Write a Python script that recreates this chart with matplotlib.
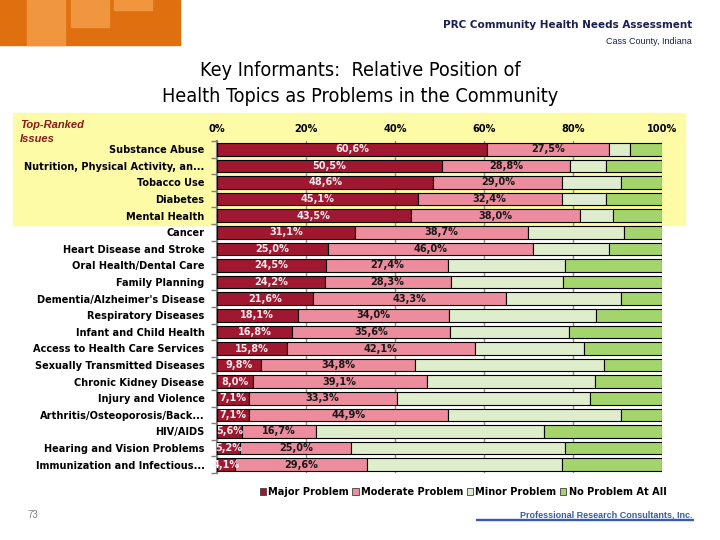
import matplotlib
matplotlib.use("Agg")
import matplotlib.pyplot as plt
from matplotlib.patches import Rectangle, Patch
from matplotlib import font_manager
import numpy as np

categories = ["Substance Abuse", "Nutrition, Physical Activity, an...", "Tobacco Use", "Diabetes",
              "Mental Health", "Cancer", "Heart Disease and Stroke", "Oral Health/Dental Care",
              "Family Planning", "Dementia/Alzheimer's Disease", "Respiratory Diseases",
              "Infant and Child Health", "Access to Health Care Services",
              "Sexually Transmitted Diseases", "Chronic Kidney Disease", "Injury and Violence",
              "Arthritis/Osteoporosis/Back...", "HIV/AIDS", "Hearing and Vision Problems",
              "Immunization and Infectious..."]
major = [60.6, 50.5, 48.6, 45.1, 43.5, 31.1, 25.0, 24.5, 24.2, 21.6, 18.1, 16.8, 15.8, 9.8, 8.0, 7.1, 7.1, 5.6, 5.2, 4.1]
moderate = [27.5, 28.8, 29.0, 32.4, 38.0, 38.7, 46.0, 27.4, 28.3, 43.3, 34.0, 35.6, 42.1, 34.8, 39.1, 33.3, 44.9, 16.7, 25.0, 29.6]
minor = [4.7, 8.1, 13.2, 9.9, 7.6, 21.7, 17.0, 26.3, 25.2, 25.9, 33.1, 26.6, 24.5, 42.3, 37.9, 43.4, 38.8, 51.2, 48.0, 43.9]
noprob = [7.2, 12.6, 9.2, 12.6, 10.9, 8.5, 12.0, 21.8, 22.3, 9.2, 14.8, 21.0, 17.6, 13.1, 15.0, 16.2, 9.2, 26.5, 21.8, 22.4]
series_names = ["Major Problem", "Moderate Problem", "Minor Problem", "No Problem At All"]
xticks = [0, 20, 40, 60, 80, 100]
xticklabels = ["0%", "20%", "40%", "60%", "80%", "100%"]

colors = ["#A0182F", "#EC8C9C", "#DEEDCB", "#A4D46C"]

# pick a narrow font if one is installed
_fonts = font_manager.fontManager.ttflist
_names = {f.name for f in _fonts}
if "Liberation Sans Narrow" in _names:
    NARROW = dict(family=["Liberation Sans Narrow", "DejaVu Sans"], stretch="normal")
    SCALE = 1.0
elif any(f.name == "DejaVu Sans" and f.stretch in ("condensed", 600, "semi-condensed") for f in _fonts):
    NARROW = dict(family=["DejaVu Sans"], stretch="condensed")
    SCALE = 0.92
else:
    NARROW = dict(family=["Liberation Sans", "DejaVu Sans"], stretch="normal")
    SCALE = 0.84
plt.rcParams["font.family"] = ["Liberation Sans", "DejaVu Sans"]

W, H = 720, 540
fig = plt.figure(figsize=(7.2, 5.4), dpi=100)
fig.patch.set_facecolor("white")

def px(x, y):
    return x / W, 1 - y / H

# logo
fig.patches.append(Rectangle(px(0, 45), 180 / W, 45 / H, transform=fig.transFigure, color="#E0700F", zorder=-6))
for (x0, x1, y1) in [(27, 65, 45), (71, 109, 27), (114, 152, 10)]:
    fig.patches.append(Rectangle(px(x0, y1), (x1 - x0) / W, y1 / H, transform=fig.transFigure,
                                 color="#F0963E", zorder=-5))

# yellow highlight
fig.patches.append(Rectangle(px(13, 225), (685 - 13) / W, (225 - 113) / H, transform=fig.transFigure,
                             color="#FEFBA6", zorder=-6))

fig.text(*px(692, 25), "PRC Community Health Needs Assessment", ha="right", va="center",
         fontsize=9 * SCALE, color="#1A2050", fontweight="bold", **NARROW)
fig.text(*px(692, 41), "Cass County, Indiana", ha="right", va="center", fontsize=6.5, color="#1A2050")
fig.text(*px(360, 70), "Key Informants:  Relative Position of", ha="center", va="center",
         fontsize=15.5 * SCALE, **NARROW)
fig.text(*px(360, 96), "Health Topics as Problems in the Community", ha="center", va="center",
         fontsize=15.5 * SCALE, **NARROW)
fig.text(*px(20, 125), "Top-Ranked", ha="left", va="center", fontsize=8, color="#8B1A1A",
         fontweight="bold", fontstyle="italic")
fig.text(*px(20, 139), "Issues", ha="left", va="center", fontsize=8, color="#8B1A1A",
         fontweight="bold", fontstyle="italic")
fig.text(*px(33, 515), "73", ha="center", va="center", fontsize=7, color="#808080")
fig.text(*px(693, 515), "Professional Research Consultants, Inc.", ha="right", va="center", fontsize=6.5,
         color="#3A5BA8", fontweight="bold")
fig.patches.append(Rectangle(px(476, 520), (693 - 476) / W, 0.8 / H, transform=fig.transFigure, color="#3A5BA8"))

ax = fig.add_axes([217 / W, 1 - 473 / H, (662 - 217) / W, (473 - 141) / H])
ax.set_facecolor("none")
n = len(categories)
y = np.arange(n)
left = np.zeros(n)
data = [major, moderate, minor, noprob]
for i, (vals, c) in enumerate(zip(data, colors)):
    vals = np.array(vals)
    ax.barh(y, vals, left=left, height=0.76, color=c, edgecolor="black", linewidth=0.8, zorder=3)
    if i < 2:
        for j in range(n):
            ax.text(left[j] + vals[j] / 2, y[j], f"{vals[j]:.1f}%".replace(".", ","),
                    ha="center", va="center", fontsize=8.5 * SCALE, fontweight="bold",
                    color="#F8E8EC" if i == 0 else "#1A1A1A", zorder=4, **NARROW)
    left += vals

ax.set_xlim(0, 100)
ax.set_ylim(n - 0.5, -0.5)
ax.xaxis.tick_top()
ax.set_xticks(xticks)
ax.set_xticklabels(xticklabels, fontsize=8.5 * SCALE, fontweight="bold", **NARROW)
ax.tick_params(axis="x", length=0, pad=5)
ax.set_yticks(y)
ax.set_yticklabels(categories, fontsize=8.5 * SCALE, fontweight="bold", **NARROW)
ax.tick_params(axis="y", length=0, pad=9)
ax.set_yticks(np.arange(n + 1) - 0.5, minor=True)
ax.tick_params(axis="y", which="minor", length=4, color="#808080", width=1)
ax.grid(axis="x", color="#909090", linewidth=1, zorder=0)
for s in ["top", "right", "bottom"]:
    ax.spines[s].set_visible(False)
ax.spines["left"].set_color("#808080")
ax.spines["left"].set_linewidth(1.5)

handles = [Patch(facecolor=c, edgecolor="#404040", linewidth=0.6) for c in colors]
fig.legend(handles, series_names, loc="center", bbox_to_anchor=px(463, 492), ncol=4, frameon=False,
           handlelength=0.6, handleheight=0.6, handletextpad=0.2, columnspacing=0.3,
           prop={"family": NARROW["family"], "stretch": NARROW["stretch"], "size": 8.5 * SCALE,
                 "weight": "bold"})

fig.savefig("out.png", dpi=100)
